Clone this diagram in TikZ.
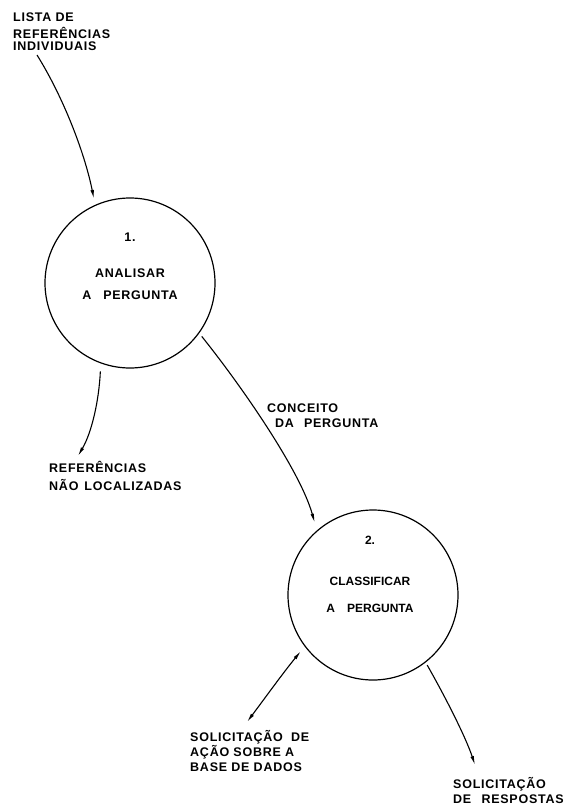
\documentclass[tikz,border=0pt]{standalone}
\usepackage{fontspec}
\setmainfont{Liberation Sans}
\newfontfamily\lettering[LetterSpace=6]{Liberation Sans}
\usetikzlibrary{arrows.meta}

\tikzset{
  process/.style={draw, circle, line width=1.2pt, minimum size=170pt, inner sep=0pt},
  flow/.style={line width=1.1pt, -{Latex[length=9pt,width=3.6pt]}},
  biflow/.style={line width=1.1pt, {Latex[length=9pt,width=3.6pt]}-{Latex[length=9pt,width=3.6pt]}},
  lbl/.style={font=\lettering\bfseries\fontsize{12.5}{15}\selectfont, align=left,
              inner sep=0pt, anchor=north west},
  proctext/.style={font=\lettering\bfseries\fontsize{12.5}{15}\selectfont, align=center,
              inner sep=0pt, anchor=north}
}

\begin{document}
\begin{tikzpicture}[x=1pt,y=-1pt]
\useasboundingbox (0,0) rectangle (575,806);

% processes
\node[process] (c1) at (130,283) {};
\node[process] (c2) at (373,595) {};

\node[proctext] (c1txt) at (130,232.5)
  {1.\\[21pt]ANALISAR\\[7pt]A\hspace{12pt}PERGUNTA};
\node[proctext, font=\bfseries\fontsize{12}{15}\selectfont] (c2txt) at (370,535.5)
  {2.\\[26pt]CLASSIFICAR\\[12pt]A\hspace{12pt}PERGUNTA};

% data flow labels
\node[lbl] (lista) at (13,13)
  {LISTA DE\\[2pt]REFERÊNCIAS\\[-3pt]INDIVIDUAIS};
\node[lbl] (naoloc) at (49,461)
  {REFERÊNCIAS\\[3pt]NÃO\hspace{6pt}LOCALIZADAS};
\node[lbl] (conceito) at (267,403.5)
  {CONCEITO\\\hspace{8pt}DA\hspace{10pt}PERGUNTA};
\node[lbl] (acao) at (190,730)
  {SOLICITAÇÃO\hspace{4pt} DE\\AÇÃO SOBRE A\\BASE DE DADOS};
\node[lbl] (resp) at (453,777)
  {SOLICITAÇÃO\\DE\hspace{6pt} RESPOSTAS};

% free ends of the flows
\coordinate (inSrc) at (37,55);
\coordinate (naoEnd) at (78,456);
\coordinate (acaoEnd) at (247,722);
\coordinate (respEnd) at (475,765);

% flows
\draw[flow, shorten >=6pt] (inSrc) .. controls (62,95) and (84,150) .. (c1.114);
\draw[flow, shorten <=8pt] (c1.250) .. controls (99,400) and (92,432) .. (naoEnd);
\draw[flow, shorten <=4pt, shorten >=8pt] (c1.324) .. controls (240,384) and (300,470) .. (c2.131);
\draw[biflow, shorten <=6pt] (c2.217) .. controls (283,673) and (265,698) .. (acaoEnd);
\draw[flow, shorten <=3pt] (c2.308) .. controls (447,700) and (466,738) .. (respEnd);
\end{tikzpicture}
\end{document}
